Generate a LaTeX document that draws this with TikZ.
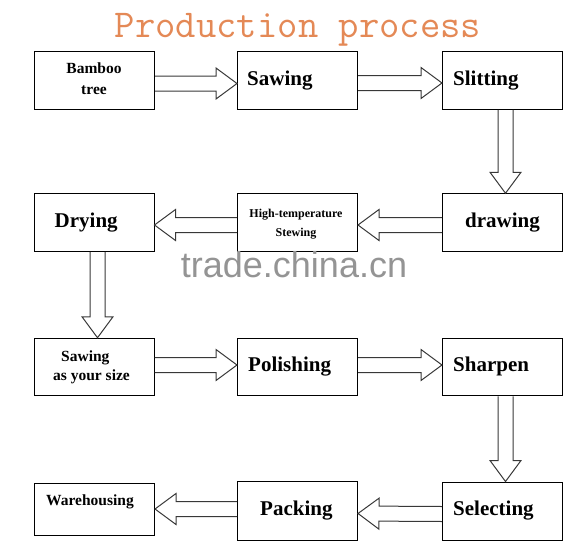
\documentclass[tikz,border=0pt]{standalone}
\usepackage{fontspec}
\setmainfont{Liberation Serif}
\newfontfamily\markfont{Liberation Sans}
\usetikzlibrary{calc}
\usetikzlibrary{positioning}

\definecolor{titleorange}{RGB}{228,137,86}

% hollow block arrow from one anchor to another
\newcommand{\blockarrow}[2]{%
  \draw [arrowline] let \p1=#1, \p2=#2,
        \n1={veclen(\x2-\x1,\y2-\y1)}, \n2={atan2(\y2-\y1,\x2-\x1)} in
        [shift={(\p1)}, rotate=\n2]
        (0pt,7.5pt) -- ({\n1*1pt-21pt},7.5pt) -- ({\n1*1pt-21pt},15.5pt)
        -- ({\n1*1pt},0pt) -- ({\n1*1pt-21pt},-15.5pt) -- ({\n1*1pt-21pt},-7.5pt)
        -- (0pt,-7.5pt);
}

\begin{document}
\begin{tikzpicture}[x=1pt, y=-1pt,
    stage/.style={draw, line width=1pt, minimum width=120pt, minimum height=57.5pt, inner sep=0pt},
    stagename/.style={font=\bfseries\fontsize{21}{24}\selectfont, text height=14pt, text depth=5pt, inner sep=0pt},
    stagenote/.style={font=\bfseries\fontsize{15.5}{21}\selectfont, inner sep=0pt},
    arrowline/.style={draw=black!78, line width=1pt, line join=miter}]
\useasboundingbox (0,0) rectangle (586,549);

\node [text=titleorange, font=\ttfamily\fontsize{39.5}{40}\selectfont, anchor=base] (title) at (298,37) {Production process};

% boxes, row by row
\node [stage] (bamboo) at (94.5,80.5) {};
\node [stage] (sawing) at (297.5,80.5) {};
\node [stage] (slitting) at (502.5,80.5) {};
\node [stage] (drying) at (94,222.5) {};
\node [stage] (stewing) at (297.5,222.5) {};
\node [stage] (drawing) at (502.5,222.5) {};
\node [stage] (sizing) at (94,367) {};
\node [stage] (polishing) at (297.5,367) {};
\node [stage] (sharpen) at (502.5,367) {};
\node [stage, minimum height=52pt] (warehouse) at (94.5,509) {};
\node [stage, minimum height=59pt] (packing) at (297.5,510.5) {};
\node [stage, minimum height=58pt] (selecting) at (502.5,511) {};

% texts
\node [stagenote, align=center] (bamboo-text) at (94,78.3) {Bamboo\\tree};
\node [stagename, right=10pt of sawing.west] (sawing-text) {Sawing};
\node [stagename, right=11pt of slitting.west] (slitting-text) {Slitting};
\node [stagename, right=21pt of drying.west] (drying-text) {Drying};
\node [stagenote, font=\bfseries\fontsize{12}{19}\selectfont, align=center] (stewing-text) at (296,223.7) {High-temperature\\Stewing};
\node [stagename, right=23pt of drawing.west] (drawing-text) {drawing};
\node [stagenote, font=\bfseries\fontsize{15.5}{19}\selectfont, align=left, anchor=west] (sizing-text) at (53,367) {\hspace*{8pt}Sawing\\as your size};
\node [stagename, right=11pt of polishing.west] (polishing-text) {Polishing};
\node [stagename, right=11pt of sharpen.west] (sharpen-text) {Sharpen};
\node [stagenote, anchor=base west] (warehouse-text) at (46,505) {Warehousing};
\node [stagename, right=23pt of packing.west] (packing-text) {Packing};
\node [stagename, right=11pt of selecting.west] (selecting-text) {Selecting};

% arrows
\blockarrow{([yshift=-3pt]bamboo.east)}{([yshift=-3pt]sawing.west)}
\blockarrow{([yshift=-2.5pt]sawing.east)}{([yshift=-2.5pt]slitting.west)}
\blockarrow{([xshift=3pt]slitting.south)}{([xshift=3pt]drawing.north)}
\blockarrow{([yshift=-2.5pt]drawing.west)}{([yshift=-2.5pt]stewing.east)}
\blockarrow{([yshift=-2.5pt]stewing.west)}{([yshift=-2.5pt]drying.east)}
\blockarrow{([xshift=3.5pt]drying.south)}{([xshift=3.5pt]sizing.north)}
\blockarrow{([yshift=2pt]sizing.east)}{([yshift=2pt]polishing.west)}
\blockarrow{([yshift=2pt]polishing.east)}{([yshift=2pt]sharpen.west)}
\blockarrow{([xshift=3pt]sharpen.south)}{([xshift=3pt]selecting.north)}
\blockarrow{([yshift=-3pt]selecting.west)}{([yshift=-3pt]packing.east)}
\blockarrow{(packing.west |- warehouse.east)}{(warehouse.east)}

% watermark
\node [text=black!42, font=\markfont\fontsize{36}{36}\selectfont, anchor=base] (watermark) at (294,277) {trade.china.cn};
\end{tikzpicture}
\end{document}
